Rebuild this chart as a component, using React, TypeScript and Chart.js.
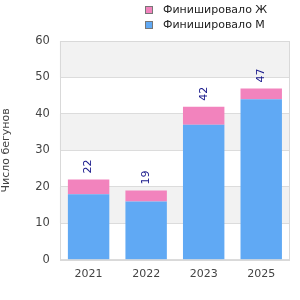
import React, { useEffect, useRef } from "react";
import { Chart, registerables } from "chart.js";

Chart.register(...registerables);

const categories = ["2021", "2022", "2023", "2025"];
const finishedM = [18, 16, 37, 44];
const finishedF = [4, 3, 5, 3];
const totals = [22, 19, 42, 47];
const yTitle = "Число бегунов";
const labelF = "Финишировало Ж";
const labelM = "Финишировало М";

const FONT = "'DejaVu Sans', sans-serif";
const BLUE = "#60a9f4";
const PINK = "#f283bd";

const bandsPlugin = {
  id: "bands",
  beforeDraw(chart: any) {
    const { ctx, chartArea, scales } = chart;
    const y = scales.y;
    ctx.save();
    for (let v = 0; v < 60; v += 10) {
      if ((v / 10) % 2 === 1) {
        const top = y.getPixelForValue(v + 10);
        const bot = y.getPixelForValue(v);
        ctx.fillStyle = "#f2f2f2";
        ctx.fillRect(chartArea.left, top, chartArea.right - chartArea.left, bot - top);
      }
    }
    ctx.restore();
  },
  afterDatasetsDraw(chart: any) {
    const { ctx, chartArea, scales } = chart;
    ctx.save();
    ctx.strokeStyle = "#d9d9d9";
    ctx.lineWidth = 1;
    ctx.strokeRect(
      Math.round(chartArea.left) + 0.5,
      Math.round(chartArea.top) + 0.5,
      Math.round(chartArea.right - chartArea.left) - 1,
      Math.round(chartArea.bottom - chartArea.top)
    );
    // totals
    ctx.fillStyle = "#1a1a8c";
    ctx.font = `11px ${FONT}`;
    ctx.textAlign = "left";
    ctx.textBaseline = "middle";
    totals.forEach((t, i) => {
      const x = scales.x.getPixelForValue(i);
      const yTop = scales.y.getPixelForValue(t);
      ctx.save();
      ctx.translate(x, yTop - 6);
      ctx.rotate(-Math.PI / 2);
      ctx.fillText(String(t), 0, 0);
      ctx.restore();
    });
    // legend
    const items = [
      { label: labelF, color: PINK },
      { label: labelM, color: BLUE },
    ];
    ctx.font = `11px ${FONT}`;
    ctx.textBaseline = "middle";
    items.forEach((it, k) => {
      const yy = 10 + k * 15;
      ctx.fillStyle = it.color;
      ctx.fillRect(145, yy - 4, 8, 8);
      ctx.strokeStyle = "#777";
      ctx.strokeRect(145.5, yy - 3.5, 7, 7);
      ctx.fillStyle = "#222";
      ctx.fillText(it.label, 163, yy);
    });
    ctx.restore();
  },
};

export default function App() {
  const ref = useRef<HTMLCanvasElement>(null);
  useEffect(() => {
    document.body.style.margin = "0";
    const chart = new Chart(ref.current!, {
      type: "bar",
      data: {
        labels: categories,
        datasets: [
          { label: labelM, data: finishedM, backgroundColor: BLUE, stack: "s" },
          { label: labelF, data: finishedF, backgroundColor: PINK, stack: "s" },
        ],
      },
      options: {
        animation: false,
        responsive: false,
        layout: { padding: { top: 41, right: 10, left: 0, bottom: 19 } },
        plugins: { legend: { display: false }, tooltip: { enabled: false } },
        scales: {
          x: {
            stacked: true,
            categoryPercentage: 1,
            barPercentage: 0.71,
            grid: { display: false },
            border: { display: false },
            ticks: { color: "#444", font: { family: FONT, size: 11 }, padding: 0 },
          },
          y: {
            stacked: true,
            min: 0,
            max: 60,
            ticks: { stepSize: 10, color: "#444", font: { family: FONT, size: 11.5 }, padding: 10 },
            grid: { color: "#dcdcdc", drawTicks: false },
            border: { display: false },
            title: {
              display: true,
              text: yTitle,
              color: "#444",
              font: { family: FONT, size: 11 },
              padding: { top: 0, bottom: 12 },
            },
          },
        },
      },
      plugins: [bandsPlugin],
    });
    return () => chart.destroy();
  }, []);
  return (
    <div style={{ width: 300, height: 300 }}>
      <canvas ref={ref} width={300} height={300} />
    </div>
  );
}
